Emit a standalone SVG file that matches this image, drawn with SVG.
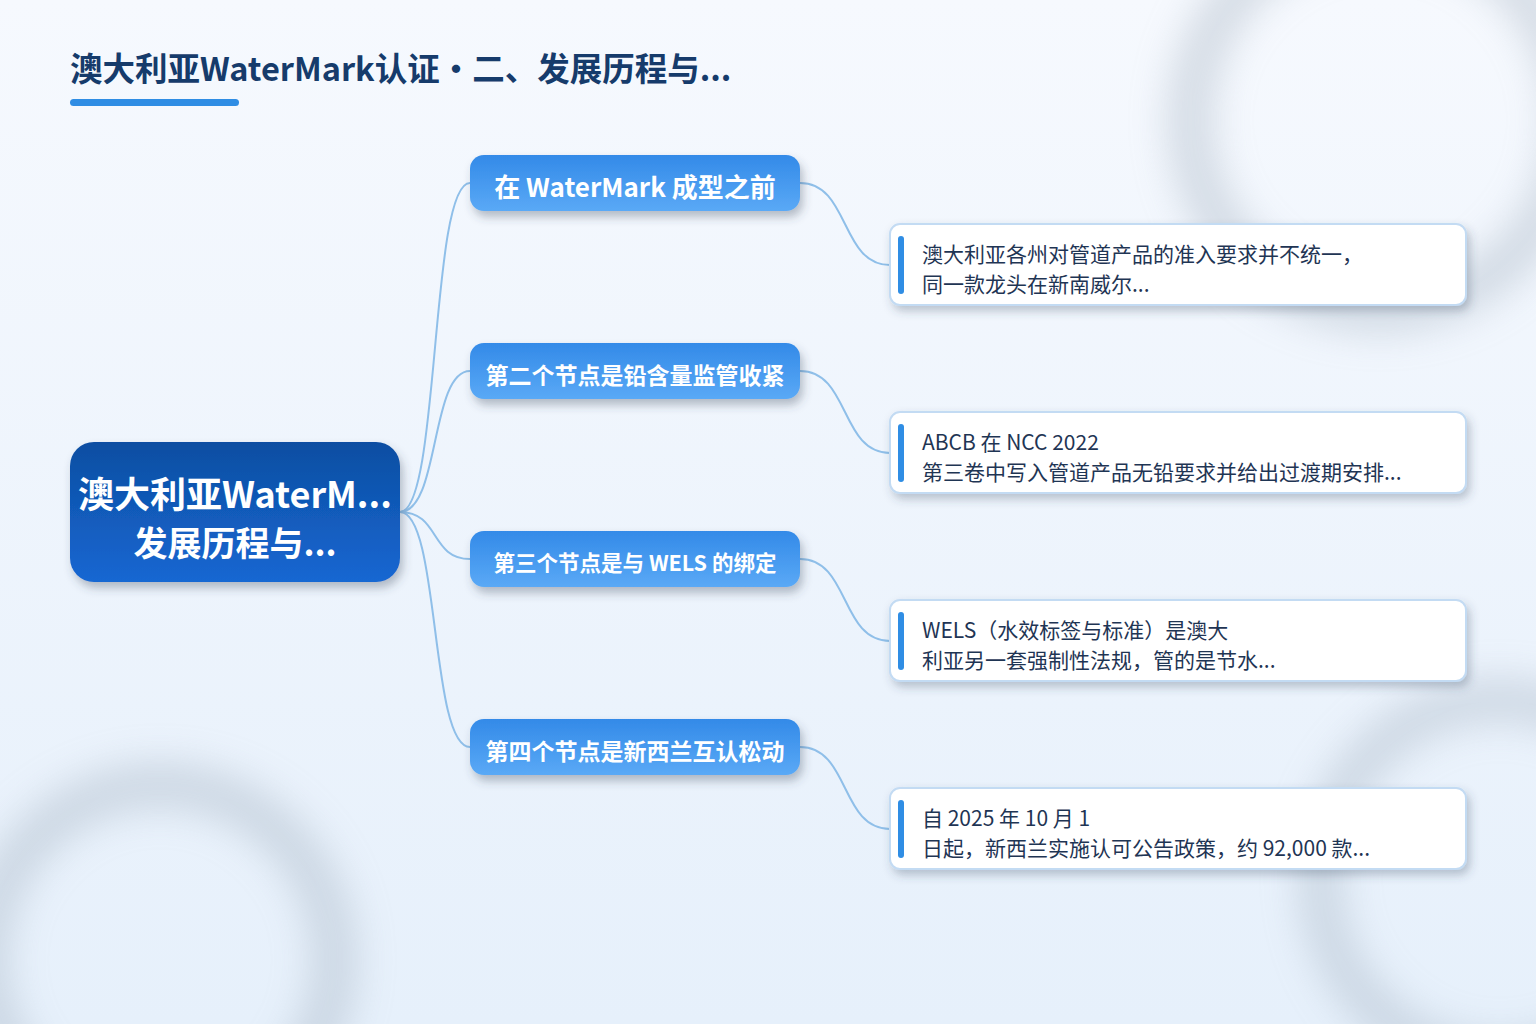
<svg xmlns="http://www.w3.org/2000/svg" width="1536" height="1024" viewBox="0 0 1536 1024">
<defs>
<linearGradient id="bg" x1="0" y1="0" x2="0" y2="1">
<stop offset="0" stop-color="#f6f9fe"/>
<stop offset="1" stop-color="#e6f0fb"/>
</linearGradient>
<linearGradient id="rootG" x1="0" y1="0" x2="0" y2="1">
<stop offset="0" stop-color="#0d4ea2"/>
<stop offset="1" stop-color="#1667d2"/>
</linearGradient>
<linearGradient id="brG" x1="0" y1="0" x2="0" y2="1">
<stop offset="0" stop-color="#338ae8"/>
<stop offset="1" stop-color="#5aa9f6"/>
</linearGradient>
<filter id="blur" x="-50%" y="-50%" width="200%" height="200%"><feGaussianBlur stdDeviation="22"/></filter>
<filter id="sh" x="-10%" y="-20%" width="125%" height="160%"><feDropShadow dx="3" dy="6" stdDeviation="5" flood-color="#3a4a60" flood-opacity="0.35"/></filter>
<filter id="shl" x="-5%" y="-20%" width="112%" height="160%"><feDropShadow dx="3" dy="5" stdDeviation="5" flood-color="#3a4a60" flood-opacity="0.3"/></filter>
</defs>
<style>
.title{font-family:"Noto Sans CJK SC","Noto Sans",sans-serif;font-weight:700;font-size:32.5px;fill:#163b6b}
.root{font-family:"Noto Sans CJK SC","Noto Sans",sans-serif;font-weight:700;fill:#ffffff}
.br{font-family:"Noto Sans CJK SC","Noto Sans",sans-serif;font-weight:700;fill:#ffffff}
.lf{font-family:"Noto Sans CJK SC","Noto Sans",sans-serif;font-size:21px;fill:#1f3554}
.edge{fill:none;stroke:#8fbfe9;stroke-width:2}
.leafbox{fill:#ffffff;stroke:#c3dbf3;stroke-width:2}
.bar{fill:#2f8de4}
</style>
<rect width="1536" height="1024" fill="url(#bg)"/>
<g filter="url(#blur)" fill="none" opacity="0.55">
<circle cx="1380" cy="120" r="190" stroke="#9aa8b8" stroke-width="30"/>
<circle cx="160" cy="960" r="175" stroke="#9aa8b8" stroke-width="30"/>
<circle cx="1500" cy="880" r="180" stroke="#9aa8b8" stroke-width="28"/>
</g>
<g id="title">
<text class="title" x="70" y="81">澳大利亚WaterMark认证・二、发展历程与...</text>
<rect x="70" y="99" width="169" height="7" rx="3.5" fill="#2f8de4"/>
</g>
<g id="connectors">
<path class="edge" d="M400,512 C440,512 430,183 470,183"/>
<path class="edge" d="M400,512 C440,512 430,371 470,371"/>
<path class="edge" d="M400,512 C440,512 430,559 470,559"/>
<path class="edge" d="M400,512 C440,512 430,747 470,747"/>
<path class="edge" d="M800,183 C850,183 840,265 890,265"/>
<path class="edge" d="M800,371 C850,371 840,453 890,453"/>
<path class="edge" d="M800,559 C850,559 840,641 890,641"/>
<path class="edge" d="M800,747 C850,747 840,829 890,829"/>
</g>
<g id="root">
<rect x="70" y="442" width="330" height="140" rx="24" fill="url(#rootG)" filter="url(#sh)"/>
<text class="root" x="235" y="508" text-anchor="middle" font-size="36">澳大利亚WaterM...</text>
<text class="root" x="235" y="556" text-anchor="middle" font-size="34">发展历程与...</text>
</g>
<g id="branch1">
<rect x="470" y="155" width="330" height="56" rx="14" fill="url(#brG)" filter="url(#sh)"/>
<text class="br" x="635" y="197" text-anchor="middle" font-size="26">在 WaterMark 成型之前</text>
</g>
<g id="branch2">
<rect x="470" y="343" width="330" height="56" rx="14" fill="url(#brG)" filter="url(#sh)"/>
<text class="br" x="635" y="384" text-anchor="middle" font-size="23">第二个节点是铅含量监管收紧</text>
</g>
<g id="branch3">
<rect x="470" y="531" width="330" height="56" rx="14" fill="url(#brG)" filter="url(#sh)"/>
<text class="br" x="635" y="571" text-anchor="middle" font-size="21.5">第三个节点是与 WELS 的绑定</text>
</g>
<g id="branch4">
<rect x="470" y="719" width="330" height="56" rx="14" fill="url(#brG)" filter="url(#sh)"/>
<text class="br" x="635" y="760" text-anchor="middle" font-size="23">第四个节点是新西兰互认松动</text>
</g>
<g id="leaf1">
<rect class="leafbox" x="890" y="224" width="576" height="81" rx="10" filter="url(#shl)"/>
<rect class="bar" x="898" y="236" width="6" height="58" rx="3"/>
<text class="lf" x="922" y="262">澳大利亚各州对管道产品的准入要求并不统一，</text>
<text class="lf" x="922" y="292">同一款龙头在新南威尔...</text>
</g>
<g id="leaf2">
<rect class="leafbox" x="890" y="412" width="576" height="81" rx="10" filter="url(#shl)"/>
<rect class="bar" x="898" y="424" width="6" height="58" rx="3"/>
<text class="lf" x="922" y="450">ABCB 在 NCC 2022</text>
<text class="lf" x="922" y="480">第三卷中写入管道产品无铅要求并给出过渡期安排...</text>
</g>
<g id="leaf3">
<rect class="leafbox" x="890" y="600" width="576" height="81" rx="10" filter="url(#shl)"/>
<rect class="bar" x="898" y="612" width="6" height="58" rx="3"/>
<text class="lf" x="922" y="638">WELS（水效标签与标准）是澳大</text>
<text class="lf" x="922" y="668">利亚另一套强制性法规，管的是节水...</text>
</g>
<g id="leaf4">
<rect class="leafbox" x="890" y="788" width="576" height="81" rx="10" filter="url(#shl)"/>
<rect class="bar" x="898" y="800" width="6" height="58" rx="3"/>
<text class="lf" x="922" y="826">自 2025 年 10 月 1</text>
<text class="lf" x="922" y="856">日起，新西兰实施认可公告政策，约 92,000 款...</text>
</g>
</svg>
